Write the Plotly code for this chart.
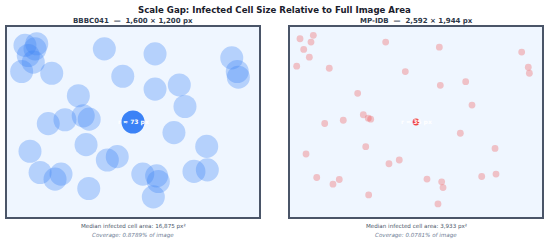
import plotly.graph_objects as go

# ---------------- data ----------------
datasets = ["BBBC041", "MP-IDB"]
img_w = [1600, 2592]
img_h = [1200, 1944]
median_area = [16875, 3933]
radius_px = [73, 35]
coverage_pct = ["0.8789%", "0.0781%"]

bbbc_x = [114, 189, 178, 135, 167, 93, 284, 618, 940, 735, 1427, 1462, 1469, 940, 1094, 453,
          1130, 262, 368, 484, 522, 1060, 146, 502, 1268, 210, 343, 305, 637, 700, 862, 950,
          961, 929, 1187, 1272, 519]
bbbc_y = [116, 106, 138, 180, 222, 281, 292, 138, 170, 311, 195, 281, 317, 392, 366, 434,
          502, 610, 586, 561, 582, 667, 785, 743, 754, 919, 929, 961, 840, 819, 929, 940,
          976, 1073, 912, 902, 1020]

mpidb_x = [103, 240, 216, 141, 199, 69, 404, 984, 1536, 1186, 2383, 2451, 2462, 1546, 1807,
           696, 1872, 357, 548, 754, 805, 830, 1752, 165, 779, 2109, 275, 507, 442, 1018,
           1124, 1409, 1560, 1574, 1522, 1972, 2119, 809]
mpidb_y = [120, 85, 154, 229, 309, 401, 422, 154, 206, 456, 257, 411, 473, 597, 559, 679,
           799, 987, 954, 898, 933, 943, 1087, 1299, 1224, 1242, 1540, 1560, 1608, 1399,
           1361, 1556, 1584, 1643, 1810, 1530, 1505, 1718]

xs = [bbbc_x, mpidb_x]
ys = [bbbc_y, mpidb_y]

faint = ["rgba(59,130,246,0.32)", "rgba(239,68,68,0.30)"]
solid = ["#3b82f6", "#ef4444"]

# ---------------- figure ----------------
fig = go.Figure()
W, H = 549, 245
x_domains = [[7 / W, 259 / W], [290 / W, 542 / W]]
y_domain = [1 - 217 / H, 1 - 27 / H]

shapes = []
annotations = []
for i in range(2):
    xa = "x" if i == 0 else "x2"
    ya = "y" if i == 0 else "y2"
    fig.add_trace(go.Scatter(x=[0, img_w[i]], y=[0, img_h[i]], mode="markers",
                             marker=dict(opacity=0), hoverinfo="skip", showlegend=False,
                             xaxis=xa, yaxis=ya))
    r = radius_px[i]
    for cx, cy in zip(xs[i], ys[i]):
        shapes.append(dict(type="circle", xref=xa, yref=ya, x0=cx - r, x1=cx + r,
                           y0=cy - r, y1=cy + r, fillcolor=faint[i], line=dict(width=0)))
    ccx, ccy = img_w[i] / 2, img_h[i] / 2
    shapes.append(dict(type="circle", xref=xa, yref=ya, x0=ccx - r, x1=ccx + r,
                       y0=ccy - r, y1=ccy + r, fillcolor=solid[i], line=dict(width=0)))
    annotations.append(dict(x=ccx, y=ccy, xref=xa, yref=ya, text=f"<b>r ≈ {r} px</b>",
                            showarrow=False, xanchor="center", yanchor="middle",
                            font=dict(size=6, color="white", family="DejaVu Sans")))
    xmid = (x_domains[i][0] + x_domains[i][1]) / 2
    annotations.append(dict(x=xmid, y=1 - 21 / H, xref="paper", yref="paper",
                            text=f"<b>{datasets[i]}  —  {img_w[i]:,} × {img_h[i]:,} px</b>",
                            showarrow=False, xanchor="center", yanchor="middle",
                            font=dict(size=7, color="#2d3748", family="DejaVu Sans")))
    annotations.append(dict(x=xmid, y=1 - 226.5 / H, xref="paper", yref="paper",
                            text=f"Median infected cell area: {median_area[i]:,} px²",
                            showarrow=False, xanchor="center", yanchor="middle",
                            font=dict(size=5.6, color="#4a5568", family="DejaVu Sans")))
    annotations.append(dict(x=xmid, y=1 - 235.5 / H, xref="paper", yref="paper",
                            text=f"<i>Coverage: {coverage_pct[i]} of image</i>",
                            showarrow=False, xanchor="center", yanchor="middle",
                            font=dict(size=5.6, color="#718096", family="DejaVu Sans")))

annotations.append(dict(x=0.5, y=1 - 10 / H, xref="paper", yref="paper",
                        text="<b>Scale Gap: Infected Cell Size Relative to Full Image Area</b>",
                        showarrow=False, xanchor="center", yanchor="middle",
                        font=dict(size=8.6, color="#1a202c", family="DejaVu Sans")))

axis_common = dict(showgrid=False, zeroline=False, showticklabels=False, ticks="",
                   showline=True, mirror=True, linecolor="#4a5568", linewidth=1.6)

fig.update_layout(
    width=W, height=H,
    margin=dict(l=0, r=0, t=0, b=0),
    paper_bgcolor="white",
    plot_bgcolor="#eff6ff",
    shapes=shapes,
    annotations=annotations,
    xaxis=dict(domain=x_domains[0], range=[0, img_w[0]], anchor="y", **axis_common),
    yaxis=dict(domain=y_domain, range=[img_h[0], 0], anchor="x", **axis_common),
    xaxis2=dict(domain=x_domains[1], range=[0, img_w[1]], anchor="y2", **axis_common),
    yaxis2=dict(domain=y_domain, range=[img_h[1], 0], anchor="x2", **axis_common),
    showlegend=False,
)

fig.write_html("out.html")
